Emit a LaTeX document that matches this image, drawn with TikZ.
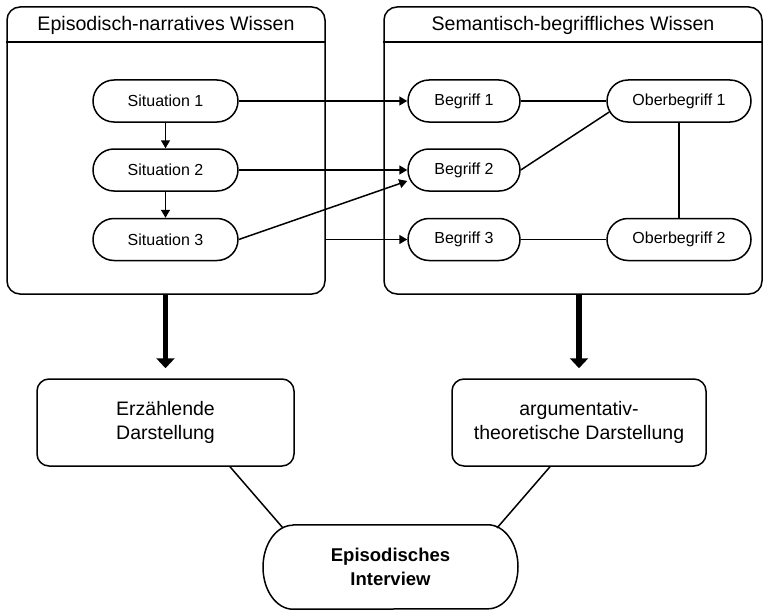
\documentclass[tikz,border=0pt]{standalone}
\usepackage{fontspec}
\setmainfont{Liberation Sans}
\usetikzlibrary{arrows.meta,calc}
\begin{document}
\begin{tikzpicture}[x=1pt,y=-1pt, line join=round,
  pill/.style={draw, line width=1.5pt, rounded corners=21pt, minimum height=42pt, inner sep=0pt, font=\fontsize{16}{19}\selectfont},
  sit/.style={pill, minimum width=145pt},
  beg/.style={pill, minimum width=112pt},
  ober/.style={pill, minimum width=144pt},
  cont/.style={draw, line width=1.5pt, rounded corners=13pt, inner sep=0pt},
  conn/.style={line width=1.5pt},
  arr/.style={conn, -{Triangle[width=9pt,length=8pt]}},
  bigarr/.style={line width=5.5pt, -{Triangle[width=18pt,length=10pt]}},
  outbox/.style={draw, line width=1.5pt, rounded corners=12pt, minimum height=87pt, align=center, font=\fontsize{19.5}{24}\selectfont, inner sep=0pt},
  hdr/.style={font=\fontsize{19.6}{22}\selectfont, inner sep=0pt}
]
\useasboundingbox (0,0) rectangle (771,610);

% containers
\node[cont, minimum width=318pt, minimum height=287pt] (lc) at (166,150.5) {};
\node[cont, minimum width=378pt, minimum height=287pt] (rc) at (573,150.5) {};
\draw[conn] ([yshift=-36pt]lc.north west) -- ([yshift=-36pt]lc.north east);
\draw[conn] ([yshift=-36pt]rc.north west) -- ([yshift=-36pt]rc.north east);
\node[hdr] (lh) at (166,25) {Episodisch-narratives Wissen};
\node[hdr] (rh) at (573,25) {Semantisch-begriffliches Wissen};

% situations
\node[sit] (s1) at (165.5,101) {Situation 1};
\node[sit] (s2) at (165.5,170) {Situation 2};
\node[sit] (s3) at (165.5,239.5) {Situation 3};

% begriffe
\node[beg] (b1) at (464,101) {Begriff 1};
\node[beg] (b2) at (464,170) {Begriff 2};
\node[beg] (b3) at (464,239.5) {Begriff 3};
\node[ober] (o1) at (679,101) {Oberbegriff 1};
\node[ober] (o2) at (679,239.5) {Oberbegriff 2};

% output boxes
\node[outbox, minimum width=257pt] (erz) at (165.5,422.5) {Erzählende\\Darstellung};
\node[outbox, minimum width=254pt] (arg) at (579,422.5) {argumentativ-\\theoretische Darstellung};

% episodisches interview
\node[minimum width=255pt, minimum height=84pt, inner sep=0pt, align=center, font=\fontsize{18.5}{24}\bfseries] (ep) at (390.5,567) {Episodisches\\Interview};
\draw[conn] ([xshift=-97.5pt]ep.north) -- ([xshift=97.5pt]ep.north)
  arc[start angle=90, end angle=-90, x radius=30pt, y radius=42pt]
  -- ([xshift=-97.5pt]ep.south)
  arc[start angle=270, end angle=90, x radius=30pt, y radius=42pt] -- cycle;

% connectors
\draw[arr] (s1) -- (s2);
\draw[arr] (s2) -- (s3);
\draw[arr] (s1) -- (b1);
\draw[arr] (s2) -- (b2);
\draw[arr] (s3.east) -- ([yshift=-11pt]b2.west);
\coordinate (lc3) at (lc.east |- s3);
\draw[arr] (lc3) -- (b3);
\draw[conn] (b1) -- (o1);
\draw[conn] (b3) -- (o2);
\draw[conn] (o1) -- (o2);
\draw[conn] (b2.east) -- ([xshift=3pt,yshift=-11pt]o1.west);

\draw[bigarr] (erz.north |- lc.south) -- ([yshift=10pt]erz.north);
\draw[bigarr] (arg.north |- rc.south) -- ([yshift=10pt]arg.north);

\coordinate (epl) at ([xshift=-107.5pt,yshift=39pt]ep.center);
\coordinate (epr) at ([xshift=106.5pt,yshift=39pt]ep.center);
\draw[conn] ([xshift=64.5pt]erz.south) -- (epl);
\draw[conn] ([xshift=-29pt]arg.south) -- (epr);
\end{tikzpicture}
\end{document}
